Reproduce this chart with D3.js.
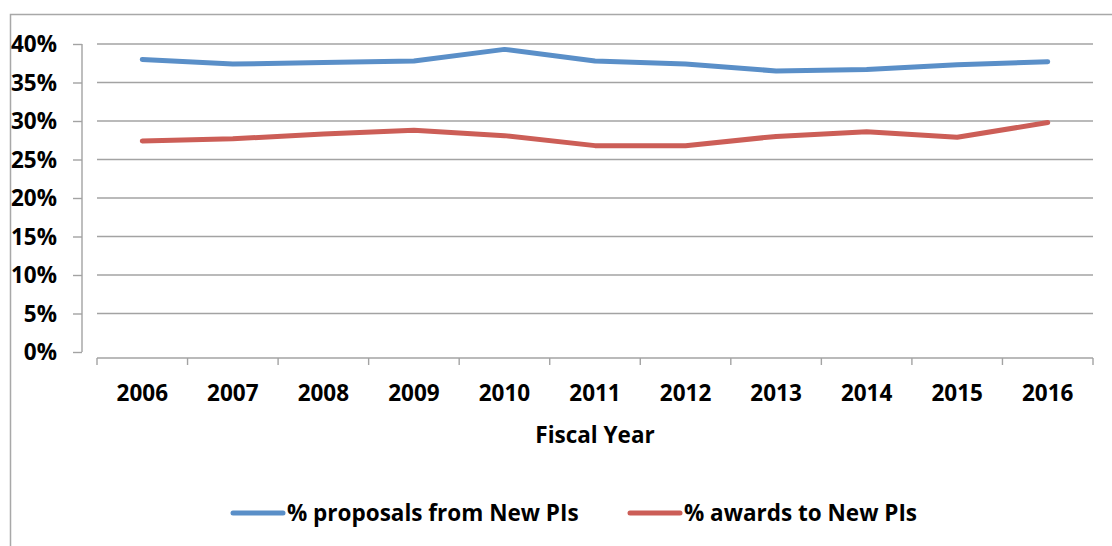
<!DOCTYPE html>
<html>
<head>
<meta charset="utf-8">
<script src="https://cdn.jsdelivr.net/npm/d3@7"></script>
<style>
  html, body { margin: 0; padding: 0; background: #fff; }
  svg { display: block; }
  text { font-family: "Open Sans", Lato, sans-serif; font-weight: bold; fill: #000; }
</style>
</head>
<body>
<svg id="chart" width="1112" height="546"></svg>
<script>
const years = ["2006","2007","2008","2009","2010","2011","2012","2013","2014","2015","2016"];
const proposalsNewPIs = [38.0, 37.4, 37.6, 37.8, 39.3, 37.8, 37.4, 36.5, 36.7, 37.3, 37.7];
const awardsNewPIs = [27.4, 27.7, 28.3, 28.8, 28.1, 26.8, 26.8, 28.0, 28.6, 27.9, 29.8];
const yTicks = [0, 5, 10, 15, 20, 25, 30, 35, 40];
const seriesNames = ["% proposals from New PIs", "% awards to New PIs"];
const seriesColors = ["#5A8FC8", "#CC5E57"];
const xTitle = "Fiscal Year";

const svg = d3.select("#chart");
const gridColor = "#a3a3a3";
const fs = 22.5;

// outer chart border
svg.append("rect").attr("x", 10.5).attr("y", 14.5).attr("width", 1200).attr("height", 600)
  .attr("fill", "none").attr("stroke", "#a8a8a8").attr("stroke-width", 1.5);

const x = d3.scaleBand().domain(years).range([97, 1093]).paddingInner(0).paddingOuter(0);
const y = d3.scaleLinear().domain([0, 40]).range([352, 44]);

// gridlines
svg.append("g").selectAll("line").data(yTicks.filter(d => d > 0)).join("line")
  .attr("x1", 97).attr("x2", 1093)
  .attr("y1", d => y(d)).attr("y2", d => y(d))
  .attr("stroke", gridColor).attr("stroke-width", 1.4);

// y axis (offset to the left)
const yAxis = svg.append("g").attr("transform", "translate(82,0)")
  .call(d3.axisLeft(y).tickValues(yTicks).tickSize(9).tickFormat(""));
yAxis.select(".domain").attr("stroke", gridColor).attr("stroke-width", 1.4)
  .attr("d", `M0,${y(40)}V${y(0)}`);
yAxis.selectAll(".tick line").attr("stroke", gridColor).attr("stroke-width", 1.4);

// y labels
svg.append("g").selectAll("text").data(yTicks).join("text")
  .attr("x", 57).attr("y", d => y(d)).attr("dy", "0.36em")
  .attr("text-anchor", "end").attr("font-size", fs)
  .text(d => d + "%");

// x axis (offset below)
const xAxisY = 358;
const xg = svg.append("g");
xg.append("line").attr("x1", 97).attr("x2", 1093).attr("y1", xAxisY).attr("y2", xAxisY)
  .attr("stroke", gridColor).attr("stroke-width", 1.4);
const boundaries = years.map(d => x(d)).concat([x.range()[1]]);
xg.selectAll("line.tick").data(boundaries).join("line").attr("class", "tick")
  .attr("x1", d => d).attr("x2", d => d).attr("y1", xAxisY).attr("y2", xAxisY + 7)
  .attr("stroke", gridColor).attr("stroke-width", 1.4);
xg.selectAll("text").data(years).join("text")
  .attr("x", d => x(d) + x.bandwidth() / 2).attr("y", 401)
  .attr("text-anchor", "middle").attr("font-size", fs)
  .text(d => d);

svg.append("text").attr("x", 595).attr("y", 443).attr("text-anchor", "middle")
  .attr("font-size", fs).text(xTitle);

// lines
const line = d3.line().x((d, i) => x(years[i]) + x.bandwidth() / 2).y(d => y(d));
[proposalsNewPIs, awardsNewPIs].forEach((s, k) => {
  svg.append("path").datum(s).attr("d", line)
    .attr("fill", "none").attr("stroke", seriesColors[k]).attr("stroke-width", 5)
    .attr("stroke-linecap", "round").attr("stroke-linejoin", "round");
});

// legend
const legendItems = [{x: 231, name: seriesNames[0], color: seriesColors[0]},
                     {x: 628, name: seriesNames[1], color: seriesColors[1]}];
const lg = svg.append("g").selectAll("g").data(legendItems).join("g");
lg.append("line").attr("x1", d => d.x + 2).attr("x2", d => d.x + 52)
  .attr("y1", 513).attr("y2", 513).attr("stroke", d => d.color).attr("stroke-width", 5)
  .attr("stroke-linecap", "round");
lg.append("text").attr("x", d => d.x + 56).attr("y", 513).attr("dy", "0.36em")
  .attr("font-size", fs).text(d => d.name);
</script>
</body>
</html>
